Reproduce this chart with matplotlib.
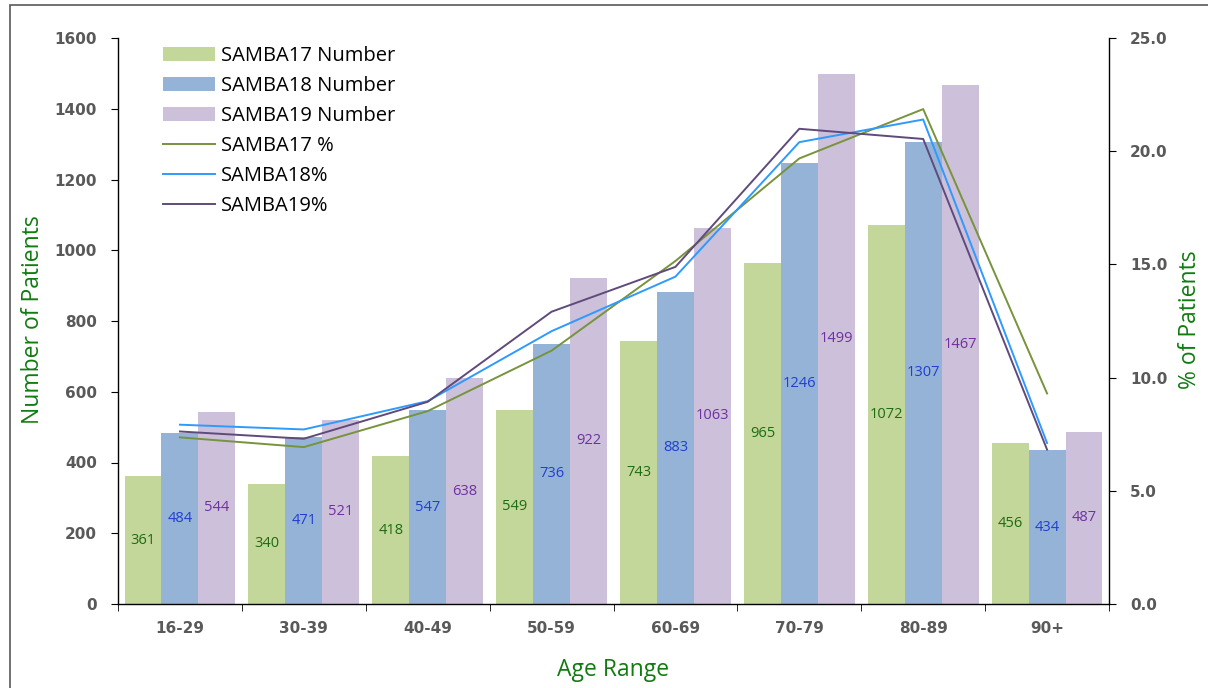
import matplotlib
matplotlib.use('Agg')
import numpy as np
import matplotlib.pyplot as plt
from matplotlib import rcParams
from matplotlib.patches import Rectangle, Patch
from matplotlib.lines import Line2D

rcParams.update({
    'font.family': ['DejaVu Sans'],
    'axes.linewidth': 1.0,
})

age_ranges = ["16-29", "30-39", "40-49", "50-59", "60-69", "70-79", "80-89", "90+"]

samba17_num = [361, 340, 418, 549, 743, 965, 1072, 456]
samba18_num = [484, 471, 547, 736, 883, 1246, 1307, 434]
samba19_num = [544, 521, 638, 922, 1063, 1499, 1467, 487]

samba17_pct = [7.36, 6.93, 8.52, 11.19, 15.15, 19.68, 21.86, 9.30]
samba18_pct = [7.92, 7.71, 8.96, 12.05, 14.46, 20.40, 21.40, 7.11]
samba19_pct = [7.62, 7.30, 8.93, 12.91, 14.89, 20.99, 20.54, 6.82]

bar_colors = ['#C4D79B', '#95B3D7', '#CCC0DA']
line_colors = ['#77933C', '#2E9AFE', '#604A7B']
label_colors = ['#1E6B12', '#1F3FD0', '#7030A0']
tick_color = '#595959'
title_green = '#107C10'

fig = plt.figure(figsize=(12.08, 6.88), dpi=100)
# outer frame
fig.patches.append(Rectangle((10 / 1208, -0.1), 1.2, 1.1 - 5 / 688, transform=fig.transFigure,
                             fill=False, edgecolor='#595959', linewidth=1.2))

ax = fig.add_axes([118 / 1208, 1 - 604 / 688, (1109 - 118) / 1208, (604 - 38) / 688])
ax2 = ax.twinx()

ind = np.arange(len(age_ranges))
width = 0.298

nums = [samba17_num, samba18_num, samba19_num]
for i, vals in enumerate(nums):
    xs = ind + (i - 1) * width
    ax.bar(xs, vals, width, color=bar_colors[i], edgecolor='none', zorder=2)
    for x, v in zip(xs, vals):
        ax.text(x, v / 2, str(v), ha='center', va='center', fontsize=10.5,
                family=['Open Sans', 'DejaVu Sans'], color=label_colors[i], zorder=3)

pcts = [samba17_pct, samba18_pct, samba19_pct]
for i, vals in enumerate(pcts):
    ax2.plot(ind, vals, color=line_colors[i], linewidth=1.4)

ax.set_xlim(-0.5, len(age_ranges) - 0.5)
ax.set_ylim(0, 1600)
ax2.set_ylim(0, 25)
ax.set_yticks(np.arange(0, 1601, 200))
ax2.set_yticks(np.arange(0, 25.1, 5))
ax2.set_yticklabels(["%.1f" % v for v in np.arange(0, 25.1, 5)])

ax.set_xticks(ind)
ax.set_xticklabels(age_ranges)
ax.set_xticks(np.arange(-0.5, len(age_ranges)), minor=True)
ax.tick_params(axis='x', which='major', length=0, pad=12, labelsize=11, labelcolor=tick_color)
ax.tick_params(axis='x', which='minor', length=5, direction='out', color='black')
for lab in ax.get_xticklabels():
    lab.set_fontweight('bold')

ax.tick_params(axis='y', length=5, direction='out', labelsize=11, labelcolor=tick_color, pad=10)
ax2.tick_params(axis='y', length=5, direction='out', labelsize=11, labelcolor=tick_color, pad=10)
for lab in ax.get_yticklabels() + ax2.get_yticklabels():
    lab.set_fontweight('bold')

for a in (ax, ax2):
    a.spines['top'].set_visible(False)
ax.spines['right'].set_visible(False)
ax2.spines['left'].set_visible(False)
ax2.spines['bottom'].set_visible(False)

lab_font = ['Open Sans', 'DejaVu Sans']
fig.text(33 / 1208, 1 - 320 / 688, "Number of Patients", rotation=90, ha='center', va='center',
         fontsize=16.5, color=title_green, family=lab_font)
fig.text(1190 / 1208, 1 - 320 / 688, "% of Patients", rotation=90, ha='center', va='center',
         fontsize=16.5, color=title_green, family=lab_font)
fig.text(613 / 1208, 1 - 670 / 688, "Age Range", ha='center', va='center',
         fontsize=16.5, color=title_green, family=lab_font)

handles = [Patch(facecolor=c, edgecolor='none') for c in bar_colors]
handles += [Line2D([0], [0], color=c, linewidth=1.4) for c in line_colors]
labels = ["SAMBA17 Number", "SAMBA18 Number", "SAMBA19 Number",
          "SAMBA17 %", "SAMBA18%", "SAMBA19%"]
leg = ax2.legend(handles, labels, loc='upper left', bbox_to_anchor=(0.027, 1.018),
                 frameon=False, prop={'family': lab_font, 'size': 14.5},
                 handlelength=2.6, handleheight=0.75, handletextpad=0.3, labelspacing=0.5)

fig.savefig('out.png', dpi=100)
